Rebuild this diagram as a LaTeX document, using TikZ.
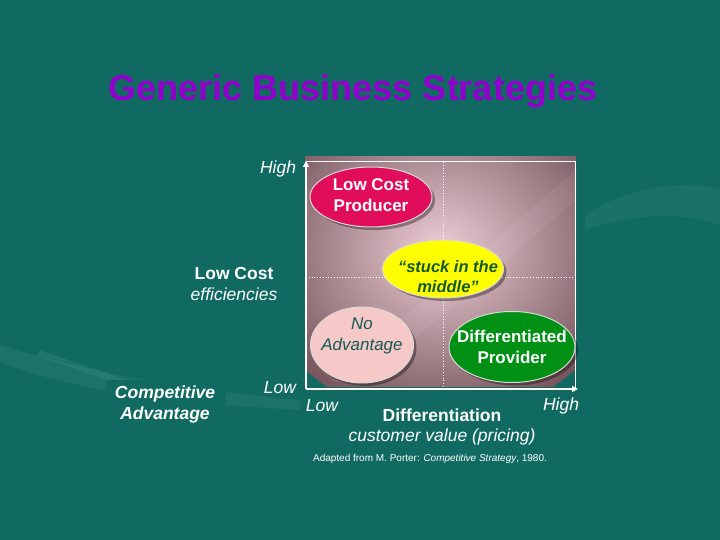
\documentclass[tikz,border=0pt]{standalone}
\usepackage{fontspec}
\setmainfont{Liberation Sans}
\usetikzlibrary{shapes.geometric,shadows,arrows.meta}
\definecolor{bgteal}{RGB}{17,106,98}
\definecolor{swoosh}{RGB}{60,145,138}
\definecolor{titlepurple}{RGB}{145,0,205}
\definecolor{boxouter}{RGB}{118,86,92}
\definecolor{boxinner}{RGB}{238,205,214}
\definecolor{lcpfill}{RGB}{225,12,90}
\definecolor{stuckfill}{RGB}{255,255,0}
\definecolor{stucktext}{RGB}{20,90,40}
\definecolor{noadvfill}{RGB}{246,200,200}
\definecolor{noadvtext}{RGB}{20,90,85}
\definecolor{difffill}{RGB}{0,145,20}
\tikzset{
  lbl/.style={text=white,font=\fontsize{17.5}{21}\selectfont,inner sep=0pt},
  lblb/.style={lbl,font=\fontsize{17.5}{21}\selectfont\bfseries},
  lbli/.style={lbl,font=\fontsize{17.5}{21}\selectfont\itshape},
  blob/.style={ellipse,inner sep=0pt,draw=white!85!black,line width=1pt,
    drop shadow={shadow xshift=3pt,shadow yshift=-3pt,fill=black,opacity=0.35}},
  blobtext/.style={align=center,inner sep=0pt,font=\fontsize{17}{21}\selectfont},
  axis/.style={white,line width=1.5pt,-{Triangle[length=6pt,width=6pt]}},
  divider/.style={white,line width=0.8pt,dotted},
}
\begin{document}
\begin{tikzpicture}[x=1pt,y=-1pt]
\useasboundingbox (0,0) rectangle (720,540);
\fill[bgteal] (0,0) rectangle (720,540);
% background swooshes
\fill[swoosh,opacity=0.22] (0,345) .. controls (80,370) and (180,390) .. (300,400)
   -- (300,410) .. controls (180,403) and (80,393) .. (0,362) -- cycle;
\fill[swoosh,opacity=0.3] (40,350) -- (140,385) -- (135,390) -- (38,356) -- cycle;
\fill[swoosh,opacity=0.2] (585,215) .. controls (630,185) and (690,180) .. (720,190)
   -- (720,225) .. controls (680,210) and (630,215) .. (585,230) -- cycle;
\fill[bgteal] (106,380) rectangle (226,427);
% title
\node (title) at (353,91) {\fontsize{36}{40}\selectfont\bfseries\color{titlepurple}Generic Business Strategies};
% plot box with shading
\begin{scope}
  \clip (305,157) rectangle (576,386);
  \shade[inner color=boxinner,outer color=boxouter] (440,250) ellipse (190 and 170);
  \fill[white,opacity=0.06] (330,380) -- (576,170) -- (576,200) -- (360,386) -- cycle;
\end{scope}
\coordinate (orig) at (306,389);
\coordinate (ytop) at (306,161);
\coordinate (xend) at (578,389);
\coordinate (tr) at (575,162);
\coordinate (vt) at (443,162);
\coordinate (vb) at (443,389);
\coordinate (hl) at (306,277);
\coordinate (hr) at (575,277);
\draw[divider] (vt) -- (vb);
\draw[divider] (hl) -- (hr);
\draw[white,line width=1pt] (306,162) -- (tr) -- (575,389);
\draw[axis] (orig) -- (ytop);
\draw[axis] (orig) -- (xend);
% ellipses
\node[blob,fill=lcpfill,minimum width=122pt,minimum height=60pt] (lcp) at (371,197) {};
\node[blobtext,text=white,font=\fontsize{17}{21}\selectfont\bfseries] (lcpt) at (371,195) {Low Cost\\Producer};
\node[blob,fill=stuckfill,minimum width=121pt,minimum height=58pt] (stuck) at (443,269) {};
\node[blobtext,text=stucktext,font=\fontsize{16.5}{20}\selectfont\bfseries\itshape] (stuckt) at (448,277) {“stuck in the\\ middle”};
\node[blob,fill=noadvfill,minimum width=103pt,minimum height=76pt] (noadv) at (362,345) {};
\node[blobtext,text=noadvtext,font=\fontsize{17}{21}\selectfont\itshape] (noadvt) at (362,336) {No\\Advantage};
\node[blob,fill=difffill,minimum width=126pt,minimum height=71pt] (diff) at (512,347) {};
\node[blobtext,text=white,font=\fontsize{17}{21}\selectfont\bfseries] (difft) at (512,347) {Differentiated\\Provider};
% labels
\node[lbli] (yhigh) at (278,169) {High};
\node[lbli] (ylow) at (280,388) {Low};
\node[lblb] (lc) at (234,273) {Low Cost};
\node[lbli] (eff) at (234,294) {efficiencies};
\node[lbl,align=center,font=\fontsize{17.5}{21}\selectfont\bfseries\itshape] (ca) at (165,404) {Competitive\\Advantage};
\node[lbli] (xlow) at (322,406) {Low};
\node[lbli] (xhigh) at (561,406) {High};
\node[lblb] (diffl) at (442,415) {Differentiation};
\node[lbli] (cv) at (442,437) {customer value (pricing)};
\node[lbl,font=\fontsize{10}{12}\selectfont] (src) at (430,459) {Adapted from M. Porter: \textit{Competitive Strategy}, 1980.};
\end{tikzpicture}
\end{document}
